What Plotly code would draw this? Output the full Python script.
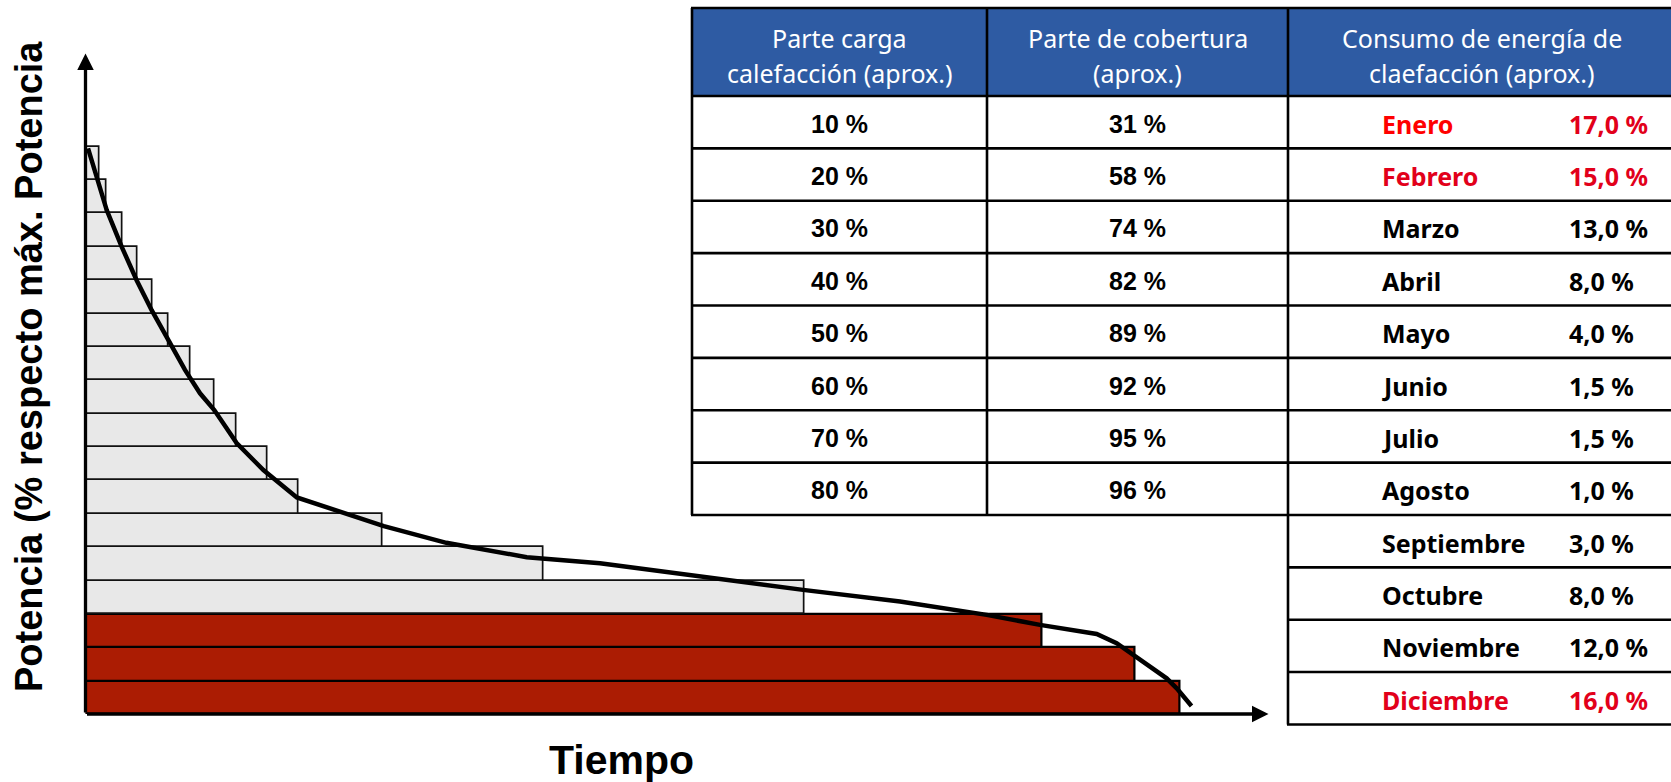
import plotly.graph_objects as go

# ---------------- data ----------------
# Annual load-duration curve: hours of the year vs. heating power (in load steps, 0..17)
curve_hours = [20, 89, 168, 287, 405, 524, 656, 788, 907, 1020, 1197, 1409, 1674,
               2010, 2363, 2858, 3495, 4075, 4867, 5683, 6451, 7138, 7560, 8009,
               8167, 8297, 8563, 8643, 8760]
curve_power = [16.95, 16.07, 15.10, 14.00, 13.00, 12.10, 11.21, 10.31, 9.61, 9.11,
               8.12, 7.31, 6.49, 6.06, 5.63, 5.13, 4.70, 4.52, 4.11, 3.72, 3.37,
               2.97, 2.67, 2.40, 2.12, 1.77, 1.07, 0.77, 0.24]

# Duration (hours) of each load step, from the bottom step to the top step
step_hours = [8665, 8305, 7575, 5695, 3625, 2355, 1685, 1445, 1195, 1020,
              835, 655, 530, 410, 290, 170, 110]
base_steps = 3  # steps covered by the base-load generator

# Table
header = [["Parte carga", "calefacción (aprox.)"],
          ["Parte de cobertura", "(aprox.)"],
          ["Consumo de energía de", "claefacción (aprox.)"]]
carga = ["10 %", "20 %", "30 %", "40 %", "50 %", "60 %", "70 %", "80 %"]
cobertura = ["31 %", "58 %", "74 %", "82 %", "89 %", "92 %", "95 %", "96 %"]
meses = ["Enero", "Febrero", "Marzo", "Abril", "Mayo", "Junio", "Julio",
         "Agosto", "Septiembre", "Octubre", "Noviembre", "Diciembre"]
consumo = [17.0, 15.0, 13.0, 8.0, 4.0, 1.5, 1.5, 1.0, 3.0, 8.0, 12.0, 16.0]
meses_destacados = {"Enero": "#FF0000", "Febrero": "#E2001A", "Diciembre": "#E2001A"}

# ---------------- geometry (pixels) ----------------
W, H = 1671, 782
ORIGIN_X, ORIGIN_Y = 85.5, 714.0
PX_PER_HOUR = (1191.5 - ORIGIN_X) / 8760
PX_PER_STEP = 33.37
PLOT_RIGHT, PLOT_TOP = 1300.0, 40.0


def fx(x):
    return x / W


def fy(y):
    return 1 - y / H


x_max = (PLOT_RIGHT - ORIGIN_X) / PX_PER_HOUR
y_max = (ORIGIN_Y - PLOT_TOP) / PX_PER_STEP
x_tip = (1268.5 - ORIGIN_X) / PX_PER_HOUR
y_tip = (ORIGIN_Y - 53.5) / PX_PER_STEP

fig = go.Figure()

n = len(step_hours)
fig.add_trace(go.Bar(
    x=step_hours,
    y=[i + 0.5 for i in range(n)],
    base=0,
    width=1,
    orientation="h",
    marker=dict(
        color=["#AB1C03" if i < base_steps else "#E8E8E8" for i in range(n)],
        line=dict(color=["#000000" if i < base_steps else "#111111" for i in range(n)],
                  width=[2.2 if i < base_steps else 1.7 for i in range(n)]),
    ),
    hoverinfo="skip",
))

fig.add_trace(go.Scatter(
    x=curve_hours, y=curve_power, mode="lines",
    line=dict(color="#000000", width=4.5),
    hoverinfo="skip",
))

annotations = []
shapes = []

# axes with arrowheads
for (tx, ty) in [(x_tip, 0), (0, y_tip)]:
    annotations.append(dict(
        x=tx, y=ty, ax=0, ay=0, xref="x", yref="y", axref="x", ayref="y",
        showarrow=True, arrowhead=2, arrowsize=1, arrowwidth=3.3,
        arrowcolor="#000000", text="",
    ))

# axis titles
annotations.append(dict(
    x=fx(621), y=fy(760), xref="paper", yref="paper", showarrow=False,
    text="<b>Tiempo</b>", font=dict(family="Liberation Sans, Arial", size=41, color="#000000"),
    xanchor="center", yanchor="middle",
))
annotations.append(dict(
    x=fx(29), y=fy(367), xref="paper", yref="paper", showarrow=False,
    text="<b>Potencia (% respecto máx. Potencia</b>", textangle=-90,
    font=dict(family="Liberation Sans, Arial", size=38, color="#000000"),
    xanchor="center", yanchor="middle",
))

# ---------------- table ----------------
T_LEFT, C1, C2, T_RIGHT = 692.0, 987.0, 1288.0, 1680.0
T_TOP, HEAD_BOTTOM, ROW_H = 8.0, 96.0, 52.37
n_left = len(carga)
n_right = len(meses)
left_bottom = HEAD_BOTTOM + n_left * ROW_H
right_bottom = HEAD_BOTTOM + n_right * ROW_H
LW = 2.6

shapes.append(dict(type="rect", xref="paper", yref="paper",
                   x0=fx(T_LEFT), x1=fx(T_RIGHT), y0=fy(T_TOP), y1=fy(HEAD_BOTTOM),
                   fillcolor="#2E5BA3", line=dict(width=0)))


def hline(y, x0, x1):
    shapes.append(dict(type="line", xref="paper", yref="paper",
                       x0=fx(x0), x1=fx(x1), y0=fy(y), y1=fy(y),
                       line=dict(color="#000000", width=LW)))


def vline(x, y0, y1):
    shapes.append(dict(type="line", xref="paper", yref="paper",
                       x0=fx(x), x1=fx(x), y0=fy(y0), y1=fy(y1),
                       line=dict(color="#000000", width=LW)))


hline(T_TOP, T_LEFT - 1, T_RIGHT)
for k in range(n_right + 1):
    yk = HEAD_BOTTOM + k * ROW_H
    hline(yk, T_LEFT - 1 if k <= n_left else C2 - 1, T_RIGHT)
vline(T_LEFT, T_TOP, left_bottom)
vline(C1, T_TOP, left_bottom)
vline(C2, T_TOP, right_bottom)

# header text
head_centers = [(T_LEFT + C1) / 2, (C1 + C2) / 2, 1482]
for cx, lines in zip(head_centers, header):
    for j, line in enumerate(lines):
        annotations.append(dict(
            x=fx(cx), y=fy(38 + j * 34.5), xref="paper", yref="paper", showarrow=False,
            text=line, xanchor="center", yanchor="middle",
            font=dict(family="Noto Sans", size=25, color="#FFFFFF"),
        ))

# left columns
for k, (a, b) in enumerate(zip(carga, cobertura)):
    cy = HEAD_BOTTOM + (k + 0.5) * ROW_H + 1.5
    for cx, txt in [((T_LEFT + C1) / 2, a), ((C1 + C2) / 2, b)]:
        annotations.append(dict(
            x=fx(cx), y=fy(cy), xref="paper", yref="paper", showarrow=False,
            text="<b>" + txt + "</b>", xanchor="center", yanchor="middle",
            font=dict(family="Liberation Sans, Arial", size=25, color="#000000"),
        ))

# monthly consumption column
for k, (mes, val) in enumerate(zip(meses, consumo)):
    cy = HEAD_BOTTOM + (k + 0.5) * ROW_H + 1.5
    col = meses_destacados.get(mes, "#000000")
    val_col = "#E2001A" if mes in meses_destacados else "#000000"
    annotations.append(dict(
        x=fx(1380), y=fy(cy), xref="paper", yref="paper", showarrow=False,
        text="<b>" + mes + "</b>", xanchor="left", yanchor="middle",
        font=dict(family="Noto Sans", size=25, color=col),
    ))
    annotations.append(dict(
        x=fx(1567), y=fy(cy), xref="paper", yref="paper", showarrow=False,
        text="<b>" + f"{val:.1f}".replace(".", ",") + " %</b>",
        xanchor="left", yanchor="middle",
        font=dict(family="Noto Sans", size=25, color=val_col),
    ))

fig.update_layout(
    width=W, height=H,
    margin=dict(l=0, r=0, t=0, b=0),
    paper_bgcolor="#FFFFFF", plot_bgcolor="#FFFFFF",
    showlegend=False,
    bargap=0,
    xaxis=dict(domain=[fx(ORIGIN_X), fx(PLOT_RIGHT)], range=[0, x_max],
               visible=False, fixedrange=True),
    yaxis=dict(domain=[fy(ORIGIN_Y), fy(PLOT_TOP)], range=[0, y_max],
               visible=False, fixedrange=True),
    shapes=shapes,
    annotations=annotations,
)

fig.write_html("out.html")
